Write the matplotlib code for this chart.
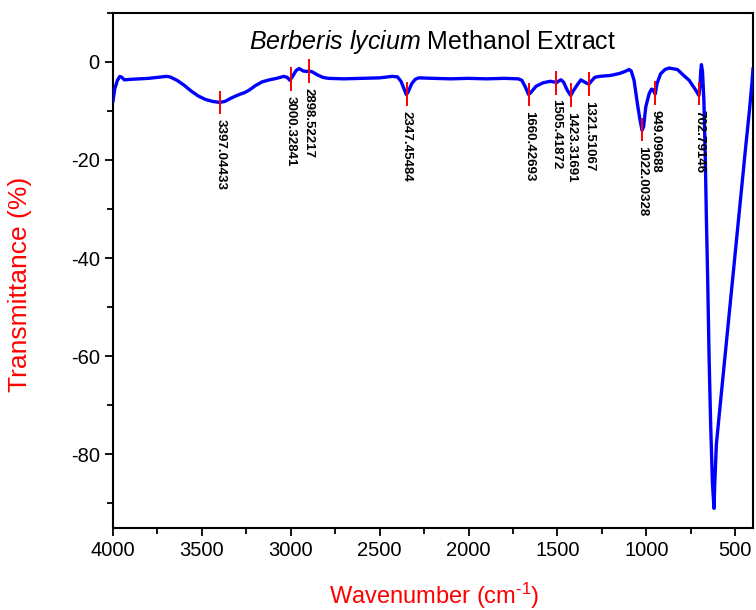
import numpy as np
import matplotlib.pyplot as plt
from matplotlib import font_manager
from matplotlib.ticker import MultipleLocator

plt.rcParams['font.family'] = ['Liberation Sans', 'DejaVu Sans']
plt.rcParams['mathtext.fontset'] = 'custom'
plt.rcParams['mathtext.rm'] = 'Liberation Sans'
plt.rcParams['mathtext.it'] = 'Liberation Sans:italic'
plt.rcParams['mathtext.default'] = 'regular'
plt.rcParams['axes.unicode_minus'] = False

# FTIR spectrum
wavenumber = [4000, 3990, 3975, 3962, 3950, 3937, 3900, 3850, 3800, 3750, 3700, 3680,
              3640, 3600, 3560, 3520, 3480, 3440, 3400, 3370, 3340, 3310, 3290, 3260,
              3234, 3200, 3160, 3120, 3080, 3040, 3020, 3005, 2990, 2970, 2953, 2930,
              2910, 2898, 2878, 2850, 2820, 2790, 2700, 2600, 2500, 2430, 2400, 2380,
              2360, 2350, 2340, 2320, 2300, 2280, 2200, 2100, 2000, 1900, 1800, 1720,
              1700, 1680, 1662, 1650, 1620, 1580, 1540, 1510, 1505, 1495, 1480, 1465,
              1445, 1425, 1415, 1390, 1368, 1345, 1323, 1310, 1290, 1265, 1200, 1150,
              1120, 1097, 1085, 1069, 1050, 1035, 1024, 1015, 1003, 984, 971, 962,
              950, 940, 920, 895, 872, 825, 790, 759, 722, 704, 698, 694, 690, 684,
              676, 668, 662, 655, 647, 638, 628, 619, 615, 606, 590, 560, 530, 500,
              470, 440, 420, 405, 400]
transmittance = [-8.0, -5.5, -3.8, -3.0, -3.2, -3.7, -3.6, -3.5, -3.4, -3.2, -3.0, -3.1,
                 -3.8, -4.8, -6.0, -7.0, -7.7, -8.1, -8.3, -8.1, -7.5, -7.0, -6.7, -6.3,
                 -5.8, -4.9, -4.1, -3.7, -3.4, -3.0, -3.2, -3.8, -3.0, -1.8, -1.4, -1.9,
                 -2.0, -1.9, -2.1, -2.7, -3.2, -3.4, -3.5, -3.4, -3.3, -3.0, -3.1, -4.0,
                 -5.8, -6.7, -6.2, -4.5, -3.6, -3.3, -3.4, -3.5, -3.4, -3.5, -3.4, -3.5,
                 -3.8, -5.2, -6.7, -6.3, -5.0, -4.3, -4.0, -4.2, -4.3, -4.0, -3.7, -4.2,
                 -5.8, -6.9, -6.2, -4.8, -3.7, -4.2, -4.6, -4.0, -3.2, -3.0, -2.8, -2.4,
                 -2.0, -1.6, -1.9, -3.8, -8.6, -12.0, -14.0, -13.2, -9.2, -6.5, -5.6, -5.7,
                 -6.6, -4.5, -2.5, -1.6, -1.3, -1.6, -2.8, -3.8, -5.8, -6.9, -5.0, -2.0,
                 -0.6, -2.0, -8.0, -20.0, -32.0, -44.0, -60.0, -74.0, -86.0, -91.0, -86.0,
                 -78.0, -72.0, -61.0, -50.0, -39.0, -28.0, -17.0, -10.0, -4.0, -1.5]

peak_positions = [3397.04433, 3000.32841, 2898.52217, 2347.45484, 1660.42693,
                  1505.41872, 1423.31691, 1321.51067, 1022.00328, 949.09688, 702.79146]
peak_labels = ['3397.04433', '3000.32841', '2898.52217', '2347.45484', '1660.42693',
               '1505.41872', '1423.31691', '1321.51067', '1022.00328', '949.09688',
               '702.79146']

# peak labels look like a narrow bold sans in the original
names = {f.name for f in font_manager.fontManager.ttflist}
if 'Liberation Sans Narrow' in names:
    peak_font = font_manager.FontProperties(family='Liberation Sans Narrow',
                                            weight='bold', size=11)
else:
    peak_font = font_manager.FontProperties(family='Liberation Sans',
                                            weight='bold', size=9.5)

fig = plt.figure(figsize=(7.56, 6.10), dpi=100)
ax = fig.add_axes([0.1495, 0.1344, 0.8465, 0.845])

ax.plot(wavenumber, transmittance, color='#0000ff', lw=2.4, zorder=3)

# red marks and labels at each peak
wn_asc = np.array(wavenumber[::-1], dtype=float)
tr_asc = np.array(transmittance[::-1], dtype=float)
for pos, lab in zip(peak_positions, peak_labels):
    y = np.interp(pos, wn_asc, tr_asc)
    ax.vlines(pos, y - 2.4, y + 2.4, color='red', lw=1.4, zorder=4)
    ax.text(pos, y - 3.4, lab, rotation=270, ha='center', va='top',
            fontproperties=peak_font, color='black')

ax.text(0.5, 0.942, r'$\it{Berberis\ lycium}$ Methanol Extract', transform=ax.transAxes,
        ha='center', va='center', fontsize=18)

ax.set_xlim(4000, 400)
ax.set_ylim(-95, 10)
ax.xaxis.set_major_locator(MultipleLocator(500))
ax.xaxis.set_minor_locator(MultipleLocator(250))
ax.set_yticks([0, -20, -40, -60, -80])
ax.yaxis.set_minor_locator(MultipleLocator(10))
ax.tick_params(which='both', direction='out', width=1.3, labelsize=14.5,
               top=False, right=False)
ax.tick_params(which='major', length=6)
ax.tick_params(which='minor', length=4)
for sp in ax.spines.values():
    sp.set_linewidth(1.5)

fig.text(0.575, 0.023, r'Wavenumber (cm$^{\text{-}1}$)', color='red', fontsize=17,
         ha='center', va='center')
fig.text(0.026, 0.533, 'Transmittance (%)', color='red', fontsize=19,
         rotation=90, ha='center', va='center')

fig.savefig('out.png', dpi=100)
